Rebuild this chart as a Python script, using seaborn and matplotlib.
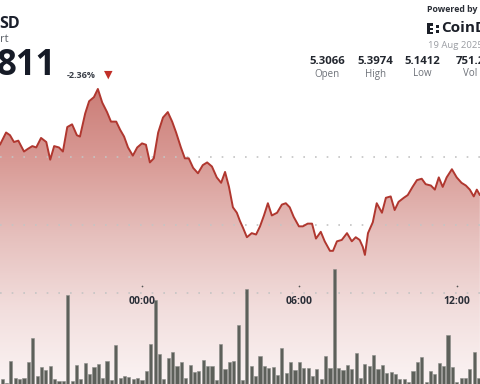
import numpy as np
import pandas as pd
import matplotlib
matplotlib.use("Agg")
import matplotlib.pyplot as plt
import seaborn as sns
from matplotlib.colors import LinearSegmentedColormap
from matplotlib.patches import Rectangle

# ---------------- data ----------------
# price line: minutes relative to 00:00 (19 Aug 2025) and price
line_min = [-325, -311, -302, -293, -283, -270, -261, -251, -242, -231,
            -219, -210, -201, -190, -181, -171, -160, -149, -142, -130,
            -121, -110, -101, -91, -80, -71, -59, -50, -41, -32,
            -21, -11, 0, 9, 18, 27, 37, 48, 59, 69,
            78, 89, 98, 107, 117, 128, 139, 149, 160, 171,
            181, 190, 199, 208, 217, 224, 231, 240, 251, 261,
            270, 279, 288, 297, 309, 320, 329, 338, 347, 359,
            368, 379, 389, 398, 409, 418, 430, 437, 446, 457,
            469, 480, 489, 498, 505, 510, 517, 528, 537, 549,
            558, 569, 578, 587, 599, 608, 619, 629, 640, 649,
            661, 670, 679, 688, 697, 709, 720, 731, 741, 750,
            759, 766, 773]
price = [5.359, 5.368, 5.366, 5.361, 5.362, 5.354, 5.356, 5.358, 5.357, 5.364,
         5.361, 5.348, 5.358, 5.357, 5.354, 5.372, 5.374, 5.366, 5.365, 5.382,
         5.391, 5.394, 5.400, 5.390, 5.383, 5.376, 5.376, 5.370, 5.365, 5.357,
         5.351, 5.357, 5.360, 5.359, 5.346, 5.349, 5.368, 5.379, 5.383, 5.376,
         5.368, 5.357, 5.349, 5.349, 5.342, 5.338, 5.344, 5.346, 5.343, 5.335,
         5.331, 5.339, 5.328, 5.313, 5.309, 5.303, 5.298, 5.291, 5.294, 5.293,
         5.299, 5.307, 5.316, 5.307, 5.309, 5.315, 5.316, 5.313, 5.306, 5.299,
         5.299, 5.301, 5.301, 5.290, 5.295, 5.288, 5.281, 5.281, 5.288, 5.289,
         5.294, 5.288, 5.291, 5.289, 5.284, 5.278, 5.294, 5.302, 5.316, 5.309,
         5.320, 5.321, 5.311, 5.317, 5.320, 5.322, 5.328, 5.333, 5.334, 5.330,
         5.329, 5.326, 5.335, 5.328, 5.335, 5.341, 5.335, 5.331, 5.329, 5.326,
         5.321, 5.326, 5.322]

# volume bars every 10 minutes
vol_min = list(range(-330, 780, 10))
volume = [12, 11, 7, 29, 12, 11, 12, 28, 52, 14,
          23, 20, 24, 11, 9, 9, 95, 9, 25, 11,
          27, 16, 23, 26, 12, 29, 10, 45, 12, 14,
          13, 11, 12, 10, 19, 46, 90, 36, 11, 32,
          38, 24, 28, 12, 25, 18, 19, 30, 24, 24,
          10, 46, 21, 28, 29, 65, 10, 101, 24, 14,
          34, 24, 22, 23, 15, 42, 17, 28, 20, 28,
          22, 22, 14, 21, 11, 34, 22, 121, 22, 20,
          25, 21, 37, 12, 26, 24, 35, 21, 25, 17,
          18, 16, 11, 11, 8, 19, 28, 33, 8, 19,
          16, 27, 24, 55, 23, 8, 12, 12, 21, 38, 12]

tick_min = [0, 360, 720]
tick_labels = ["00:00", "06:00", "12:00"]
grid_levels = [5.35, 5.30, 5.25]

stat_values = ["5.3066", "5.3974", "5.1412", "751.2"]
stat_names = ["Open", "High", "Low", "Vol"]

# ---------------- figure ----------------
sns.set_theme(style="white")
plt.rcParams["font.family"] = ["Open Sans", "DejaVu Sans"]

W, H = 480, 384
fig = plt.figure(figsize=(4.8, 3.84), dpi=100)
ax = fig.add_axes([0, 0, 1, 1])
ax.set_facecolor("white")

xlim = (-324.9, 773.3)
ylim = (5.1831, 5.4654)

# gradient fill under the line
poly = ax.fill_between(line_min, price, ylim[0], color="none", lw=0)
cmap = LinearSegmentedColormap.from_list(
    "fillgrad", ["#fbf4f4", "#f2dedd", "#e6c0bd", "#d99b96", "#cb7d77"])
grad = np.linspace(0, 1, 256).reshape(-1, 1)
im = ax.imshow(grad, cmap=cmap, origin="lower", aspect="auto",
               extent=[xlim[0], xlim[1], ylim[0], 5.40], zorder=1)
im.set_clip_path(poly.get_paths()[0], transform=ax.transData)

sns.lineplot(x=line_min, y=price, ax=ax, color="#b0372f", linewidth=1.4,
             zorder=4)

ax.set_xlim(*xlim)
ax.set_ylim(*ylim)
ax.set_yticks(grid_levels)
ax.yaxis.grid(True, color="#c4c4c4", linestyle=(0, (1, 6)), linewidth=1.2)
ax.set_axisbelow(False)
for gl in ax.get_ygridlines():
    gl.set_zorder(2)
ax.set_xticks(tick_min)
ax.set_xticklabels([])
ax.set_yticklabels([])
ax.tick_params(length=0)
for s in ax.spines.values():
    s.set_visible(False)
ax.set_xlabel("")
ax.set_ylabel("")

# volume bars
ax2 = ax.twinx()
df_vol = pd.DataFrame({"t": vol_min, "v": volume})
sns.barplot(data=df_vol, x="t", y="v", ax=ax2, native_scale=True,
            color="#5d605a", saturation=1, width=0.72, errorbar=None,
            edgecolor="#8b8d89", linewidth=0.4, zorder=3)
ax2.set_xlim(*xlim)
ax2.set_ylim(6, 390)
ax2.set_yticks([])
ax2.set_xticks([])
ax2.set_xlabel("")
ax2.set_ylabel("")
for s in ax2.spines.values():
    s.set_visible(False)

# time labels and tick dots
tr = ax.get_xaxis_transform()
for t, lab in zip(tick_min, tick_labels):
    ax2.text(t, (H - 301) / H, lab, transform=tr, ha="center", va="center",
             fontsize=7.5, fontweight="bold", color="#2b2f38", zorder=6)
ax.scatter(tick_min, [(H - 286) / H] * len(tick_min), transform=tr,
           s=1.5, color="#555555", zorder=5, linewidths=0)

# ---------------- header text ----------------
def px(x, y):
    return x / W, 1 - y / H

fig.text(*px(-1, 24), "SD", fontsize=11.5, fontweight="bold",
         color="#1b202c", ha="left", va="center")
fig.text(*px(0, 40), "rt", fontsize=8, color="#5a5f66", ha="left",
         va="center")
fig.text(*px(-3, 66), "811", fontsize=25, fontweight="bold",
         color="#161b27", ha="left", va="center")
fig.text(*px(67, 75), "-2.36%", fontsize=6.5, fontweight="bold",
         color="#3a3f48", ha="left", va="center")
fig.text(*px(108, 75), "▼", fontsize=8, color="#c12f28", ha="center",
         va="center", family=["DejaVu Sans"])

fig.text(*px(427, 10), "Powered by", fontsize=6.3, fontweight="bold",
         color="#2a2e36", ha="left", va="center")
# logo mark
for (rx, ry, rw, rh) in [(427, 23, 2.5, 11), (427, 23, 6, 2.5),
                         (427, 31.5, 6, 2.5), (430, 27.5, 3, 2.5),
                         (436, 25, 2.5, 2.5), (436, 30, 2.5, 2.5)]:
    fig.patches.append(Rectangle(px(rx, ry + rh), rw / W, rh / H,
                                 transform=fig.transFigure,
                                 color="#1b1f28", lw=0))
fig.text(*px(441, 28.5), "CoinDesk", fontsize=11, fontweight="bold",
         color="#1b1f28", ha="left", va="center")
fig.text(*px(428, 45.5), "19 Aug 2025", fontsize=6.8, color="#9a9da3",
         ha="left", va="center")

stat_x = [327, 375, 422, 470]
for x, v, n in zip(stat_x, stat_values, stat_names):
    fig.text(*px(x, 61), v, fontsize=8.2, fontweight="bold",
             color="#23272f", ha="center", va="center")
    fig.text(*px(x, 74), n, fontsize=7, color="#6d7178", ha="center",
             va="center")

fig.savefig("out.png", dpi=100)
